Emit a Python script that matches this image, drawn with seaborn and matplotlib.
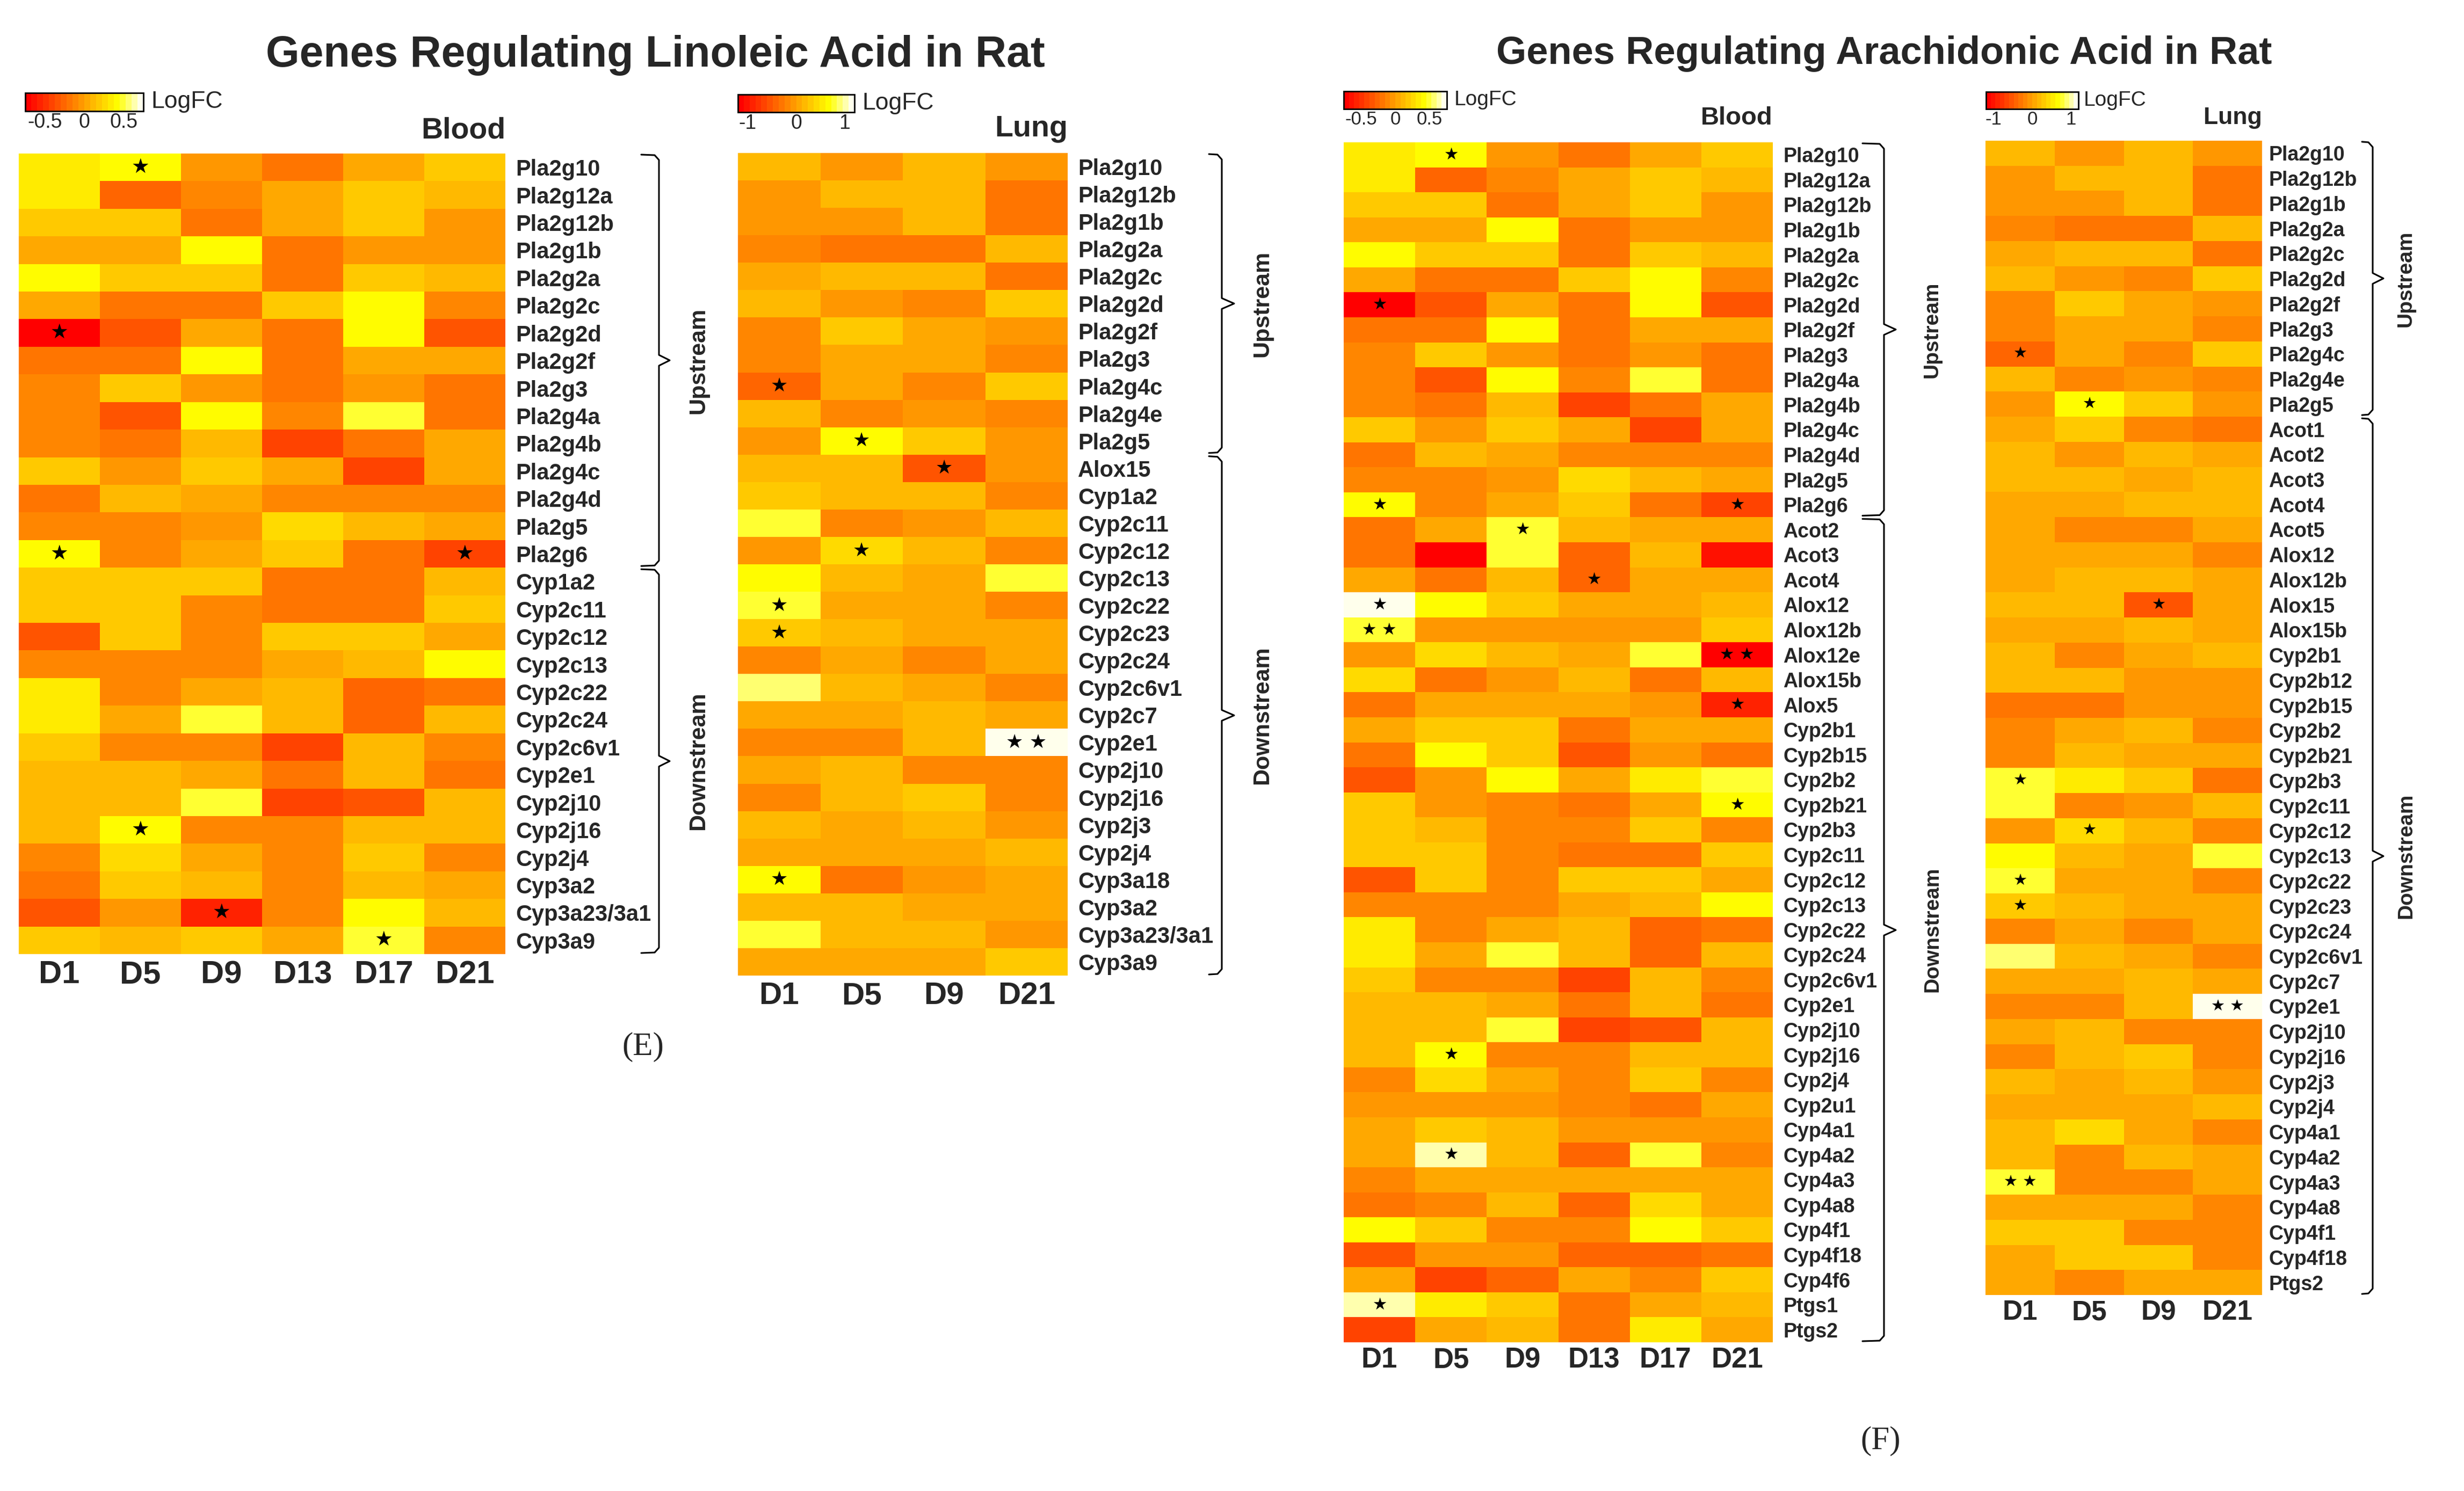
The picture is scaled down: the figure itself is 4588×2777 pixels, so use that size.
import numpy as np
import pandas as pd
import matplotlib
matplotlib.use('Agg')
import matplotlib.pyplot as plt
import seaborn as sns
from matplotlib.colors import LinearSegmentedColormap

# ---- data (logFC) ----
days6 = ['D1', 'D5', 'D9', 'D13', 'D17', 'D21']
days4 = ['D1', 'D5', 'D9', 'D21']

blood_up_genes = ['Pla2g10', 'Pla2g12a', 'Pla2g12b', 'Pla2g1b', 'Pla2g2a', 'Pla2g2c', 'Pla2g2d',
                  'Pla2g2f', 'Pla2g3', 'Pla2g4a', 'Pla2g4b', 'Pla2g4c', 'Pla2g4d', 'Pla2g5', 'Pla2g6']
blood_up_fc = [
    [0.35, 0.45, -0.03, -0.2, 0.02, 0.2],
    [0.3, -0.3, -0.1, 0.05, 0.2, 0.12],
    [0.22, 0.15, -0.2, 0.0, 0.15, -0.02],
    [0.07, 0.0, 0.4, -0.2, -0.03, -0.03],
    [0.45, 0.22, 0.15, -0.2, 0.22, 0.14],
    [0.0, -0.2, -0.2, 0.15, 0.38, -0.08],
    [-0.7, -0.35, 0.0, -0.2, 0.43, -0.33],
    [-0.22, -0.22, 0.45, -0.2, 0.0, 0.0],
    [-0.08, 0.22, -0.07, -0.2, -0.03, -0.2],
    [-0.1, -0.32, 0.42, -0.08, 0.47, -0.2],
    [-0.1, -0.22, 0.14, -0.42, -0.22, 0.02],
    [0.22, -0.03, 0.22, 0.0, -0.4, 0.0],
    [-0.22, 0.13, 0.0, -0.08, -0.08, -0.08],
    [-0.08, -0.08, -0.03, 0.25, 0.13, 0.02],
    [0.42, -0.08, 0.02, 0.2, -0.2, -0.42],
]
blood_up_stars = [('Pla2g10', 'D5', 1), ('Pla2g2d', 'D1', 1), ('Pla2g6', 'D1', 1), ('Pla2g6', 'D21', 1)]

blood_la_down_genes = ['Cyp1a2', 'Cyp2c11', 'Cyp2c12', 'Cyp2c13', 'Cyp2c22', 'Cyp2c24', 'Cyp2c6v1',
                       'Cyp2e1', 'Cyp2j10', 'Cyp2j16', 'Cyp2j4', 'Cyp3a2', 'Cyp3a23/3a1', 'Cyp3a9']
blood_la_down_fc = [
    [0.2, 0.2, 0.2, -0.2, -0.2, 0.12],
    [0.2, 0.2, -0.08, -0.2, -0.18, 0.22],
    [-0.35, 0.22, -0.08, 0.22, 0.22, 0.02],
    [-0.08, -0.08, -0.08, 0.0, 0.1, 0.38],
    [0.3, -0.08, 0.02, 0.1, -0.27, -0.2],
    [0.3, 0.02, 0.47, 0.1, -0.27, 0.12],
    [0.22, -0.08, -0.08, -0.4, 0.1, -0.08],
    [0.12, 0.12, 0.02, -0.2, 0.1, -0.2],
    [0.12, 0.12, 0.47, -0.4, -0.33, 0.12],
    [0.12, 0.45, -0.08, -0.08, 0.1, 0.1],
    [-0.08, 0.25, 0.02, -0.08, 0.22, -0.08],
    [-0.2, 0.22, 0.12, -0.08, 0.12, 0.02],
    [-0.33, -0.05, -0.6, -0.08, 0.38, 0.12],
    [0.22, 0.12, 0.22, 0.02, 0.48, -0.08],
]
blood_la_down_stars = [('Cyp2j16', 'D5', 1), ('Cyp3a23/3a1', 'D9', 1), ('Cyp3a9', 'D17', 1)]

blood_aa_down_genes = ['Acot2', 'Acot3', 'Acot4', 'Alox12', 'Alox12b', 'Alox12e', 'Alox15b', 'Alox5',
                       'Cyp2b1', 'Cyp2b15', 'Cyp2b2', 'Cyp2b21', 'Cyp2b3', 'Cyp2c11', 'Cyp2c12',
                       'Cyp2c13', 'Cyp2c22', 'Cyp2c24', 'Cyp2c6v1', 'Cyp2e1', 'Cyp2j10', 'Cyp2j16',
                       'Cyp2j4', 'Cyp2u1', 'Cyp4a1', 'Cyp4a2', 'Cyp4a3', 'Cyp4a8', 'Cyp4f1', 'Cyp4f18',
                       'Cyp4f6', 'Ptgs1', 'Ptgs2']
blood_aa_down_fc = [
    [-0.2, 0.07, 0.47, 0.1, 0.0, 0.0],
    [-0.22, -0.72, 0.5, -0.24, 0.1, -0.65],
    [0.0, -0.2, 0.1, -0.3, 0.0, 0.0],
    [0.7, 0.45, 0.22, 0.0, 0.0, 0.14],
    [0.46, -0.07, -0.07, -0.07, -0.07, 0.18],
    [-0.03, 0.26, 0.1, 0.0, 0.5, -0.68],
    [0.25, -0.2, -0.07, 0.1, -0.2, 0.1],
    [-0.22, 0.0, 0.0, 0.0, -0.03, -0.55],
    [0.0, 0.2, 0.2, -0.2, 0.07, 0.0],
    [-0.22, 0.38, 0.2, -0.32, -0.07, -0.2],
    [-0.37, -0.07, 0.45, 0.0, 0.33, 0.48],
    [0.2, -0.03, -0.08, -0.2, 0.07, 0.4],
    [0.2, 0.12, -0.08, -0.08, 0.2, -0.08],
    [0.2, 0.2, -0.08, -0.2, -0.18, 0.22],
    [-0.35, 0.22, -0.08, 0.22, 0.22, 0.02],
    [-0.08, -0.08, -0.08, 0.0, 0.1, 0.38],
    [0.3, -0.08, 0.02, 0.1, -0.27, -0.2],
    [0.3, 0.02, 0.47, 0.1, -0.27, 0.12],
    [0.22, -0.08, -0.08, -0.4, 0.1, -0.08],
    [0.12, 0.12, 0.02, -0.2, 0.1, -0.2],
    [0.12, 0.12, 0.47, -0.4, -0.33, 0.12],
    [0.12, 0.45, -0.08, -0.08, 0.1, 0.1],
    [-0.08, 0.25, 0.02, -0.08, 0.22, -0.08],
    [-0.03, -0.03, -0.03, -0.08, -0.2, 0.0],
    [0.07, 0.15, 0.1, -0.03, -0.03, -0.03],
    [0.0, 0.6, 0.1, -0.27, 0.46, -0.08],
    [-0.08, 0.0, 0.0, 0.0, 0.0, 0.0],
    [-0.2, -0.1, 0.1, -0.27, 0.26, 0.0],
    [0.45, 0.2, -0.08, -0.08, 0.43, 0.22],
    [-0.37, -0.03, -0.05, -0.27, -0.27, -0.2],
    [0.0, -0.4, -0.3, 0.0, -0.08, 0.2],
    [0.62, 0.33, 0.22, -0.2, 0.0, 0.1],
    [-0.42, 0.0, 0.1, -0.2, 0.33, 0.0],
]
blood_aa_down_stars = [('Acot2', 'D9', 1), ('Acot4', 'D13', 1), ('Alox12', 'D1', 1), ('Alox12b', 'D1', 2),
                       ('Alox12e', 'D21', 2), ('Alox5', 'D21', 1), ('Cyp2b21', 'D21', 1),
                       ('Cyp2j16', 'D5', 1), ('Cyp4a2', 'D5', 1), ('Ptgs1', 'D1', 1)]

lung_up_genes = ['Pla2g10', 'Pla2g12b', 'Pla2g1b', 'Pla2g2a', 'Pla2g2c', 'Pla2g2d', 'Pla2g2f',
                 'Pla2g3', 'Pla2g4c', 'Pla2g4e', 'Pla2g5']
lung_up_fc = [
    [0.2, -0.1, 0.2, -0.1],
    [-0.05, 0.22, 0.2, -0.32],
    [-0.05, -0.05, 0.2, -0.32],
    [-0.22, -0.3, -0.3, 0.15],
    [0.0, 0.2, 0.2, -0.3],
    [0.15, -0.05, -0.15, 0.35],
    [-0.18, 0.33, 0.0, -0.05],
    [-0.18, 0.0, 0.0, -0.15],
    [-0.48, 0.0, -0.15, 0.3],
    [0.18, -0.15, -0.05, -0.15],
    [-0.1, 0.62, 0.35, -0.05],
]
lung_up_stars = [('Pla2g4c', 'D1', 1), ('Pla2g5', 'D5', 1)]

lung_la_down_genes = ['Alox15', 'Cyp1a2', 'Cyp2c11', 'Cyp2c12', 'Cyp2c13', 'Cyp2c22', 'Cyp2c23',
                      'Cyp2c24', 'Cyp2c6v1', 'Cyp2c7', 'Cyp2e1', 'Cyp2j10', 'Cyp2j16', 'Cyp2j3',
                      'Cyp2j4', 'Cyp3a18', 'Cyp3a2', 'Cyp3a23/3a1', 'Cyp3a9']
lung_la_down_fc = [
    [0.15, 0.15, -0.52, -0.05],
    [0.3, 0.2, 0.2, -0.15],
    [0.72, -0.15, -0.05, 0.15],
    [-0.1, 0.45, 0.15, -0.15],
    [0.7, 0.15, 0.0, 0.72],
    [0.75, 0.0, 0.0, -0.15],
    [0.28, 0.15, 0.0, 0.0],
    [-0.15, 0.0, -0.15, 0.0],
    [0.95, 0.15, 0.0, -0.15],
    [0.0, 0.0, 0.15, 0.0],
    [-0.15, -0.15, 0.15, 1.15],
    [0.0, 0.15, -0.15, -0.15],
    [-0.15, 0.15, 0.3, -0.15],
    [0.15, 0.0, 0.15, -0.05],
    [0.0, 0.0, 0.0, 0.15],
    [0.62, -0.3, -0.1, 0.0],
    [0.15, 0.15, 0.0, 0.12],
    [0.72, 0.15, 0.15, -0.05],
    [0.0, 0.0, 0.0, 0.3],
]
lung_la_down_stars = [('Alox15', 'D9', 1), ('Cyp2c12', 'D5', 1), ('Cyp2c22', 'D1', 1),
                      ('Cyp2c23', 'D1', 1), ('Cyp2e1', 'D21', 2), ('Cyp3a18', 'D1', 1)]

lung_aa_down_genes = ['Acot1', 'Acot2', 'Acot3', 'Acot4', 'Acot5', 'Alox12', 'Alox12b', 'Alox15',
                      'Alox15b', 'Cyp2b1', 'Cyp2b12', 'Cyp2b15', 'Cyp2b2', 'Cyp2b21', 'Cyp2b3',
                      'Cyp2c11', 'Cyp2c12', 'Cyp2c13', 'Cyp2c22', 'Cyp2c23', 'Cyp2c24', 'Cyp2c6v1',
                      'Cyp2c7', 'Cyp2e1', 'Cyp2j10', 'Cyp2j16', 'Cyp2j3', 'Cyp2j4', 'Cyp4a1',
                      'Cyp4a2', 'Cyp4a3', 'Cyp4a8', 'Cyp4f1', 'Cyp4f18', 'Ptgs2']
lung_aa_down_fc = [
    [0.0, 0.33, -0.15, -0.3],
    [0.15, -0.05, 0.15, 0.0],
    [0.15, 0.15, 0.0, 0.15],
    [0.0, 0.0, 0.2, 0.15],
    [0.0, -0.15, -0.15, 0.0],
    [0.0, 0.0, 0.0, -0.15],
    [0.0, 0.15, 0.15, 0.05],
    [0.15, 0.15, -0.52, 0.0],
    [0.0, 0.0, 0.15, 0.0],
    [0.15, -0.15, 0.05, 0.18],
    [0.15, 0.15, -0.1, -0.1],
    [-0.25, -0.35, -0.1, -0.1],
    [-0.15, 0.0, 0.15, -0.15],
    [-0.15, 0.15, 0.05, 0.0],
    [0.75, 0.55, 0.3, -0.3],
    [0.72, -0.15, -0.05, 0.15],
    [-0.1, 0.45, 0.15, -0.15],
    [0.7, 0.15, 0.0, 0.72],
    [0.75, 0.0, 0.0, -0.15],
    [0.28, 0.15, 0.0, 0.0],
    [-0.15, 0.0, -0.15, 0.0],
    [0.95, 0.15, 0.0, -0.15],
    [0.0, 0.0, 0.15, 0.0],
    [-0.15, -0.15, 0.15, 1.15],
    [0.0, 0.15, -0.15, -0.15],
    [-0.15, 0.15, 0.3, -0.15],
    [0.15, 0.0, 0.15, -0.05],
    [0.0, 0.0, 0.0, 0.15],
    [0.15, 0.38, 0.0, -0.15],
    [0.15, -0.15, 0.15, 0.0],
    [0.72, -0.15, -0.15, 0.0],
    [0.0, 0.0, 0.0, -0.15],
    [0.35, 0.3, -0.15, -0.15],
    [0.0, 0.3, 0.3, -0.15],
    [0.0, -0.15, 0.0, 0.0],
]
lung_aa_down_stars = [('Alox15', 'D9', 1), ('Cyp2b3', 'D1', 1), ('Cyp2c12', 'D5', 1),
                      ('Cyp2c22', 'D1', 1), ('Cyp2c23', 'D1', 1), ('Cyp2e1', 'D21', 2),
                      ('Cyp4a3', 'D1', 2)]

# ---- styling ----
sns.set_style('white')
plt.rcParams['font.family'] = ['Liberation Sans', 'DejaVu Sans']

# heat palette as in R: red -> orange -> yellow -> cream, in discrete steps
heat = LinearSegmentedColormap.from_list(
    'heat', [(0.0, '#FF0000'), (0.8, '#FFFF00'), (1.0, '#FFFFEC')], N=20)

W, H = 4588, 2777
fig = plt.figure(figsize=(W / 100, H / 100), dpi=100)
ov = fig.add_axes([0, 0, 1, 1])
ov.set_xlim(0, W)
ov.set_ylim(H, 0)
ov.axis('off')


def fig_box(x0, y0, x1, y1):
    return [x0 / W, 1 - y1 / H, (x1 - x0) / W, (y1 - y0) / H]


def brace(x_hook, x_v, x_tip, y0, y1):
    mid = (y0 + y1) / 2
    xs = [x_hook, x_v - 8, x_v, x_v, x_tip, x_v, x_v, x_v - 8, x_hook]
    ys = [y0, y0 + 1, y0 + 10, mid - 10, mid, mid + 10, y1 - 10, y1 - 1, y1]
    ov.plot(xs, ys, color='black', lw=2.2, solid_joinstyle='round')


def panel(genes_up, fc_up, stars_up, genes_dn, fc_dn, stars_dn, days, hbox, cbox, vlim,
          cticks, clabels, s):
    genes = genes_up + genes_dn
    df = pd.DataFrame(fc_up + fc_dn, index=genes, columns=days)
    annot = pd.DataFrame('', index=genes, columns=days)
    for g, d, n in stars_up + stars_dn:
        annot.loc[g, d] = ' '.join(['\u2605'] * n)

    ax = fig.add_axes(fig_box(*hbox))
    cax = fig.add_axes(fig_box(*cbox))
    sns.heatmap(df, ax=ax, cmap=heat, vmin=-vlim, vmax=vlim, cbar_ax=cax,
                cbar_kws={'orientation': 'horizontal'},
                annot=annot, fmt='', xticklabels=True, yticklabels=True,
                annot_kws={'color': 'black', 'fontsize': s['star'], 'family': ['DejaVu Sans']})

    ax.yaxis.tick_right()
    ax.tick_params(axis='y', length=0, pad=s['ypad'])
    ax.tick_params(axis='x', length=0, pad=s['xpad'])
    ax.set_yticklabels(genes, rotation=0, ha='left', fontsize=s['ylab'], fontweight='bold')
    ax.set_xticklabels(days, rotation=0, fontsize=s['xlab'], fontweight='bold')
    ax.set_xlabel('')
    ax.set_ylabel('')

    cb = ax.collections[0].colorbar
    cb.set_ticks(cticks)
    cb.set_ticklabels(clabels)
    cb.ax.tick_params(labelsize=s['ctick'], length=6, width=1.5, pad=2, direction='in')
    cb.outline.set_edgecolor('black')
    cb.outline.set_linewidth(2)

    # LogFC label and tissue title
    x0, y0, x1, y1 = hbox
    cx0, cy0, cx1, cy1 = cbox
    ov.text(cx1 + s['lgap'], (cy0 + cy1) / 2, 'LogFC', fontsize=s['logfc'], va='center',
            ha='left')
    ov.text(x1, s['tis_y'], s['tissue'], fontsize=s['tis'], fontweight='bold', ha='right',
            va='center')

    # braces for upstream / downstream genes
    rh = (y1 - y0) / len(genes)
    yb = y0 + rh * len(genes_up)
    bx = s['brace']
    brace(bx[0], bx[1], bx[2], y0 + 2, yb - 3)
    brace(bx[0], bx[1], bx[2], yb + 3, y1 - 2)
    ov.text(s['grp_x'], (y0 + yb) / 2, 'Upstream', rotation=90, fontsize=s['grp'],
            fontweight='bold', ha='center', va='center')
    ov.text(s['grp_x'], (yb + y1) / 2, 'Downstream', rotation=90, fontsize=s['grp'],
            fontweight='bold', ha='center', va='center')
    return ax


style_left_blood = dict(star=27, ypad=14, xpad=8, ylab=30, xlab=43, ctick=27, lgap=14, logfc=32,
                        tis_y=243, tissue='Blood', tis=40,
                        brace=(1194, 1227, 1247), grp_x=1300, grp=31)
style_left_lung = dict(style_left_blood, tissue='Lung', xlab=42, ylab=30, star=26, ctick=27,
                       brace=(2251, 2275, 2298), grp_x=2350, tis_y=240)
style_right_blood = dict(star=22, ypad=14, xpad=6, ylab=27, xlab=38, ctick=25, lgap=14, logfc=28,
                         tis_y=220, tissue='Blood', tis=34,
                         brace=(3468, 3508, 3530), grp_x=3598, grp=28)
style_right_lung = dict(star=21, ypad=9, xpad=6, ylab=27, xlab=37, ctick=25, lgap=10, logfc=28,
                        tis_y=220, tissue='Lung', tis=32,
                        brace=(4398, 4418, 4438), grp_x=4480, grp=28)

panel(blood_up_genes, blood_up_fc, blood_up_stars, blood_la_down_genes, blood_la_down_fc,
      blood_la_down_stars, days6, (35, 286, 941, 1777), (47, 173, 267, 207), 0.75,
      [-0.5, 0, 0.5], ['-0.5', '0', '0.5'], style_left_blood)
panel(lung_up_genes, lung_up_fc, lung_up_stars, lung_la_down_genes, lung_la_down_fc,
      lung_la_down_stars, days4, (1374, 285, 1988, 1817), (1374, 176, 1591, 209), 1.2,
      [-1, -0.5, 0, 0.5, 1], ['-1', '', '0', '', '1'], style_left_lung)
panel(blood_up_genes, blood_up_fc, blood_up_stars, blood_aa_down_genes, blood_aa_down_fc,
      blood_aa_down_stars, days6, (2502, 265, 3301, 2500), (2502, 170, 2694, 203), 0.75,
      [-0.5, 0, 0.5], ['-0.5', '0', '0.5'], style_right_blood)
panel(lung_up_genes, lung_up_fc, lung_up_stars, lung_aa_down_genes, lung_aa_down_fc,
      lung_aa_down_stars, days4, (3697, 262, 4212, 2412), (3698, 171, 3870, 203), 1.2,
      [-1, -0.5, 0, 0.5, 1], ['-1', '', '0', '', '1'], style_right_lung)

# titles and panel letters
ov.text(1220, 103, 'Genes Regulating Linoleic Acid in Rat', fontsize=58, fontweight='bold',
        ha='center', va='center')
ov.text(3508, 100, 'Genes Regulating Arachidonic Acid in Rat', fontsize=52, fontweight='bold',
        ha='center', va='center')
ov.text(1197, 1950, '(E)', fontsize=44, family=['Liberation Serif'], ha='center', va='center')
ov.text(3502, 2684, '(F)', fontsize=44, family=['Liberation Serif'], ha='center', va='center')

fig.savefig('out.png', dpi=100)
